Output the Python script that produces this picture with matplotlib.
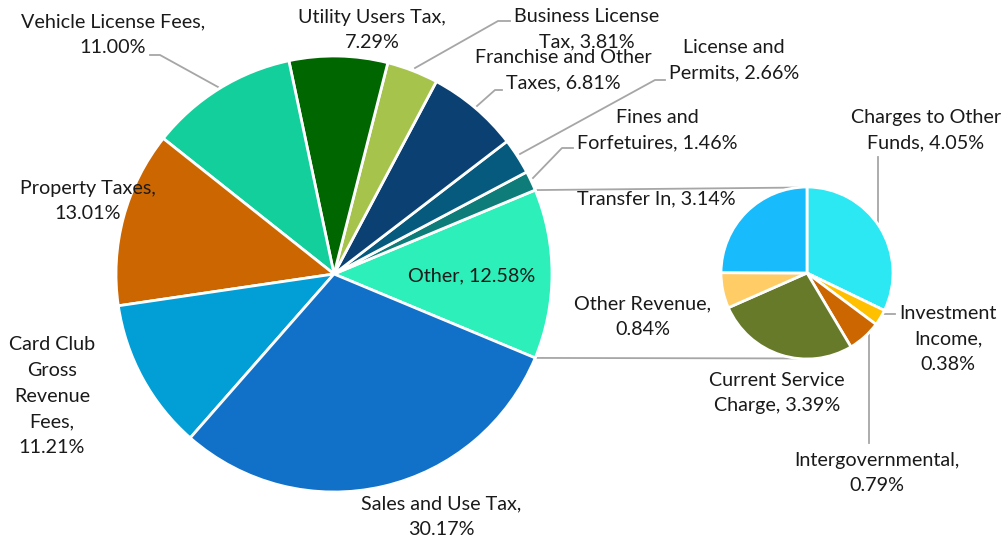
"""Pie-of-pie chart of general fund revenue shares."""

import numpy as np
import matplotlib
matplotlib.use("Agg")
import matplotlib.pyplot as plt

W, H = 1001, 544

# main pie, counterclockwise starting with "Other" centred at 3 o'clock
main_labels = ["Other", "Fines and\nForfetuires", "License and\nPermits",
               "Franchise and Other\nTaxes", "Business License\nTax",
               "Utility Users Tax,\n", "Vehicle License Fees,\n",
               "Property Taxes,\n", "Card Club\nGross\nRevenue\nFees,\n",
               "Sales and Use Tax,\n"]
main_values = [12.58, 1.46, 2.66, 6.81, 3.81, 7.29, 11.00, 13.01, 11.21, 30.17]
main_colors = ["#2DEFB9", "#0E7D7A", "#055A7D", "#0B4073", "#A6C34C",
               "#006600", "#13CF9B", "#CC6600", "#029ED6", "#1170C8"]

# secondary pie, clockwise from 12 o'clock
sub_labels = ["Charges to Other\nFunds", "Investment\nIncome,\n",
              "Intergovernmental,\n", "Current Service\nCharge",
              "Other Revenue,\n", "Transfer In"]
sub_values = [4.05, 0.38, 0.79, 3.39, 0.84, 3.14]
sub_colors = ["#2BE8F2", "#FFC000", "#CC6600", "#677A2A", "#FFCC66", "#18BCFC"]

plt.rcParams["font.family"] = ["Lato", "DejaVu Sans"]
FS = 14.2
LS = 1.64
GREY = "#A6A6A6"


def Y(py):
    return H - py


fig = plt.figure(figsize=(W / 100, H / 100), dpi=100)
ax = fig.add_axes([0, 0, 1, 1])

c_main, r_main = (334, Y(274)), 218
c_sub, r_sub = (807, Y(273)), 86

other_half = main_values[0] / sum(main_values) * 360 / 2
ax.pie(main_values, colors=main_colors, center=c_main, radius=r_main,
       startangle=-other_half, counterclock=True,
       wedgeprops=dict(edgecolor="white", linewidth=2.0))
ax.pie(sub_values, colors=sub_colors, center=c_sub, radius=r_sub,
       startangle=90, counterclock=False,
       wedgeprops=dict(edgecolor="white", linewidth=2.0))

# connector lines between the two pies
for a_main, a_sub in [(other_half, 96.5), (-other_half, 263.5)]:
    p0 = (c_main[0] + r_main * np.cos(np.radians(a_main)),
          c_main[1] + r_main * np.sin(np.radians(a_main)))
    p1 = (c_sub[0] + r_sub * np.cos(np.radians(a_sub)),
          c_sub[1] + r_sub * np.sin(np.radians(a_sub)))
    ax.plot([p0[0], p1[0]], [p0[1], p1[1]], color=GREY, lw=1.3, zorder=0)

# label positions (pixel centres) for each slice
main_pos = [(472, 276), (657, 130), (734, 60), (563, 70), (587, 29),
            (372, 30), (113, 35), (88, 201), (52, 396), (441, 517)]
sub_pos = [(926, 130), (948, 339), (877, 473), (777, 393), (643, 317),
           (656, 199)]


def label_text(lab, val):
    sep = "" if lab.endswith("\n") else ", "
    return f"{lab}{sep}{val:.2f}%"


for lab, val, (px, py) in zip(main_labels + sub_labels,
                              main_values + sub_values, main_pos + sub_pos):
    ax.text(px, Y(py), label_text(lab, val), ha="center", va="center",
            fontsize=FS, color="#1A1A1A", linespacing=LS)

# leader lines (pixel coords)
leaders = [
    [(218, 87), (160, 55), (150, 55)],
    [(415, 68), (498, 21), (510, 21)],
    [(477, 106), (495, 90), (502, 90)],
    [(520, 154), (655, 80), (665, 80)],
    [(533, 178), (562, 148), (573, 148)],
    [(878, 222), (878, 157)],
    [(883, 314), (895, 314)],
    [(869, 333), (869, 443)],
]
for pts in leaders:
    xs = [p[0] for p in pts]
    ys = [Y(p[1]) for p in pts]
    ax.plot(xs, ys, color=GREY, lw=1.3, zorder=0)

ax.set_xlim(0, W)
ax.set_ylim(0, H)
ax.set_aspect("equal")
ax.axis("off")

fig.savefig("out.png", dpi=100)
